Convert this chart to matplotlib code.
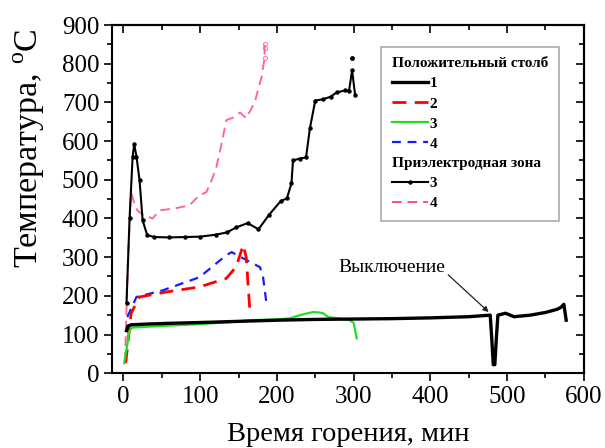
import matplotlib
matplotlib.use("Agg")
import matplotlib.pyplot as plt
from matplotlib.lines import Line2D
from matplotlib.ticker import MultipleLocator

plt.rcParams['font.family'] = ['Liberation Serif', 'DejaVu Serif']
plt.rcParams['mathtext.fontset'] = 'custom'
plt.rcParams['mathtext.rm'] = 'Liberation Serif'

# Положительный столб
x1 = [4, 6, 10, 30, 60, 100, 150, 200, 250, 300, 350, 400, 450, 478, 480, 482, 484, 486, 488, 492, 498, 509, 530, 550, 565, 570, 574, 577]
y1 = [110, 122, 125, 127, 129, 131, 134, 137, 139, 140, 141, 143, 146, 150, 90, 22, 22, 90, 150, 152, 155, 146, 150, 157, 165, 170, 178, 137]

x2 = [3, 10, 21, 56, 99, 134, 147, 156, 160, 165]
y2 = [26, 155, 197, 210, 223, 245, 275, 331, 300, 155]

x3 = [1, 8, 12, 30, 60, 100, 140, 165, 200, 217, 230, 247, 255, 260, 267, 280, 295, 300, 304]
y3 = [26, 111, 118, 120, 123, 127, 132, 137, 139, 142, 150, 158, 157, 155, 145, 142, 137, 130, 90]

x4 = [5, 17, 51, 99, 134, 141, 156, 178, 182, 187]
y4 = [145, 197, 214, 248, 305, 313, 297, 274, 248, 171]

# Приэлектродная зона
xe3 = [4, 8, 12, 14, 17, 21, 25, 31, 40, 60, 80, 100, 120, 135, 147, 162, 176, 190, 205, 213, 219, 221, 230, 238, 243, 250, 260, 270, 278, 289, 294, 298, 302]
ye3 = [181, 400, 560, 592, 560, 499, 395, 357, 352, 351, 352, 353, 358, 364, 377, 388, 372, 410, 445, 452, 491, 550, 555, 558, 633, 705, 708, 715, 726, 731, 730, 783, 718]
xe3_pt = [298]
ye3_pt = [816]

xe4 = [2, 6, 10, 14, 18, 25, 38, 47, 67, 86, 99, 108, 115, 121, 128, 134, 143, 152, 160, 171, 180, 184, 184, 184]
ye4 = [30, 300, 468, 440, 421, 410, 400, 421, 426, 434, 460, 468, 499, 532, 594, 654, 661, 674, 659, 700, 765, 816, 840, 852]

annot_text = 'Выключение'
annot_xy = (476, 158)
annot_xytext = (350, 274)

fig = plt.figure(figsize=(6.05, 4.48), dpi=100)
ax = fig.add_axes([0.185, 0.167, 0.78, 0.777])

pink = '#ff4f7b'
ax.plot(xe4, ye4, color=pink, lw=1.4, ls=(0, (5, 3)), alpha=0.85,
        marker='o', ms=3, mfc='none', mec=pink, mew=0.6, markevery=[21, 22, 23])
ax.plot(xe3, ye3, color='black', lw=1.5, marker='o', ms=2.2)
ax.plot(xe3_pt, ye3_pt, ls='none', color='black', marker='o', ms=2.5)
ax.plot(x4, y4, color='#1a1aff', lw=1.6, ls=(0, (4, 3)))
ax.plot(x2, y2, color='#ff0000', lw=2.0, ls=(0, (5, 3)))
ax.plot(x3, y3, color='#22dd22', lw=1.6)
ax.plot(x1, y1, color='black', lw=2.4)

ax.annotate(annot_text, xy=annot_xy, xytext=annot_xytext, fontsize=14,
            ha='center', va='center',
            arrowprops=dict(arrowstyle='-|>', color='#222222', lw=0.9,
                            mutation_scale=8, shrinkA=0, shrinkB=0,
                            relpos=(1.0, 0.2)))

ax.set_xlim(-15, 600)
ax.set_ylim(0, 900)
for a in (ax.xaxis, ax.yaxis):
    a.set_major_locator(MultipleLocator(100))
    a.set_minor_locator(MultipleLocator(50))
ax.tick_params(which='both', direction='out', width=1.2)
ax.tick_params(which='major', length=6, labelsize=18, pad=3)
ax.tick_params(which='minor', length=3.5)

# mirrored inward ticks on top and right
secx = ax.secondary_xaxis('top')
secx.xaxis.set_major_locator(MultipleLocator(100))
secx.xaxis.set_minor_locator(MultipleLocator(50))
secx.tick_params(which='both', direction='in', labeltop=False, width=1.2)
secx.tick_params(which='major', length=6)
secx.tick_params(which='minor', length=3.5)
secy = ax.secondary_yaxis('right')
secy.yaxis.set_major_locator(MultipleLocator(100))
secy.yaxis.set_minor_locator(MultipleLocator(50))
secy.tick_params(which='both', direction='in', labelright=False, width=1.2)
secy.tick_params(which='major', length=6)
secy.tick_params(which='minor', length=3.5)
for s in list(ax.spines.values()) + [secx.spines['top'], secy.spines['right']]:
    s.set_linewidth(1.5)

ax.set_xlabel('Время горения, мин', fontsize=20.5)
ax.xaxis.set_label_coords(0.5, -0.14)
ax.set_ylabel('Температура, $^{\\rm o}$C', fontsize=24.5)
ax.yaxis.set_label_coords(-0.137, 0.647)

blank = Line2D([], [], ls='none')
handles = [blank,
           Line2D([], [], color='black', lw=2.4),
           Line2D([], [], color='#ff0000', lw=2.0, ls=(0, (5, 3))),
           Line2D([], [], color='#22dd22', lw=1.6),
           Line2D([], [], color='#1a1aff', lw=1.6, ls=(0, (4, 3))),
           blank,
           Line2D([], [], color='black', lw=1.5, marker='o', ms=2.2, markevery=[1]),
           Line2D([], [], color=pink, lw=1.4, ls=(0, (5, 3)))]
labels = ['Положительный столб', '1', '2', '3', '4', 'Приэлектродная зона', '3', '4']
leg = ax.legend(handles, labels, loc='upper right', bbox_to_anchor=(0.963, 0.96),
                prop={'weight': 'bold', 'size': 11}, handlelength=2.4,
                handletextpad=0.1, labelspacing=0.42, fancybox=False,
                edgecolor='#aaaaaa', framealpha=1, borderpad=0.7)
leg.get_frame().set_linewidth(1.2)
col = leg._legend_handle_box.get_children()[0]
for i, hp in enumerate(col.get_children()):
    if labels[i] in ('Положительный столб', 'Приэлектродная зона'):
        hp._children = [hp.get_children()[1]]

fig.savefig('out.png', dpi=100)
